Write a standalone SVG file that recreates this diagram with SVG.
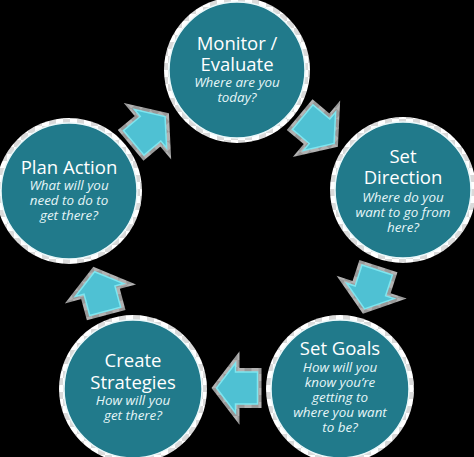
<svg xmlns="http://www.w3.org/2000/svg" width="474" height="457" viewBox="0 0 474 457">
  <defs>
    <pattern id="checker" patternUnits="userSpaceOnUse" width="14" height="14">
      <rect width="14" height="14" fill="#ffffff"/>
      <rect width="7" height="7" fill="#dadada"/>
      <rect x="7" y="7" width="7" height="7" fill="#dadada"/>
    </pattern>
    <polygon id="arr" points="-20,-16 2,-16 2,-25 21,0 2,25 2,16 -20,16"/>
  </defs>
  <style>
    .halo { fill: url(#checker); }
    .disc { fill: #217a8b; stroke: #eaf8fa; stroke-width: 1.5; }
    .lbl { font-family: "Open Sans", "DejaVu Sans", sans-serif; text-anchor: middle; }
    .title { font-size: 18.5px; fill: #ffffff; }
    .sub { font-size: 13.4px; font-style: italic; fill: #e6f6f8; }
    .ahalo { fill: none; stroke: url(#checker); stroke-width: 8; opacity: 0.7; }
    .afill { fill: #4fc1d3; stroke: #7ee6f0; stroke-width: 1.5; }
  </style>
  <rect width="474" height="457" fill="#000000"/>

  <g id="connectors">
    <g transform="translate(149,130) rotate(-40)">
      <use href="#arr" class="ahalo"/><use href="#arr" class="afill"/>
    </g>
    <g transform="translate(318,130) rotate(40)">
      <use href="#arr" class="ahalo"/><use href="#arr" class="afill"/>
    </g>
    <g transform="translate(371,289) rotate(108)">
      <use href="#arr" class="ahalo"/><use href="#arr" class="afill"/>
    </g>
    <g transform="translate(237.5,388) rotate(180)">
      <use href="#arr" class="ahalo"/><use href="#arr" class="afill"/>
    </g>
    <g transform="translate(100,292) rotate(-105)">
      <use href="#arr" class="ahalo"/><use href="#arr" class="afill"/>
    </g>
  </g>

  <g id="monitor">
    <circle class="halo" cx="237" cy="70" r="73"/>
    <circle class="disc" cx="237" cy="70" r="68"/>
    <text class="lbl"><tspan class="title" x="237" y="50">Monitor /</tspan><tspan class="title" x="237" y="71">Evaluate</tspan><tspan class="sub" x="237" y="87">Where are you</tspan><tspan class="sub" x="237" y="102">today?</tspan></text>
  </g>

  <g id="set-direction">
    <circle class="halo" cx="403" cy="190" r="73"/>
    <circle class="disc" cx="403" cy="190" r="68"/>
    <text class="lbl"><tspan class="title" x="403" y="163">Set</tspan><tspan class="title" x="403" y="184">Direction</tspan><tspan class="sub" x="403" y="202">Where do you</tspan><tspan class="sub" x="403" y="217">want to go from</tspan><tspan class="sub" x="403" y="232">here?</tspan></text>
  </g>

  <g id="set-goals">
    <circle class="halo" cx="340" cy="389" r="74"/>
    <circle class="disc" cx="340" cy="389" r="69"/>
    <text class="lbl"><tspan class="title" x="340" y="355">Set Goals</tspan><tspan class="sub" x="340" y="372">How will you</tspan><tspan class="sub" x="340" y="387">know you’re</tspan><tspan class="sub" x="340" y="402">getting to</tspan><tspan class="sub" x="340" y="417">where you want</tspan><tspan class="sub" x="340" y="432">to be?</tspan></text>
  </g>

  <g id="create-strategies">
    <circle class="halo" cx="133" cy="389" r="74"/>
    <circle class="disc" cx="133" cy="389" r="69"/>
    <text class="lbl"><tspan class="title" x="133" y="367">Create</tspan><tspan class="title" x="133" y="389">Strategies</tspan><tspan class="sub" x="133" y="405">How will you</tspan><tspan class="sub" x="133" y="420">get there?</tspan></text>
  </g>

  <g id="plan-action">
    <circle class="halo" cx="69" cy="191" r="73"/>
    <circle class="disc" cx="69" cy="191" r="68"/>
    <text class="lbl"><tspan class="title" x="69" y="174">Plan Action</tspan><tspan class="sub" x="69" y="190">What will you</tspan><tspan class="sub" x="69" y="205">need to do to</tspan><tspan class="sub" x="69" y="220">get there?</tspan></text>
  </g>
</svg>
